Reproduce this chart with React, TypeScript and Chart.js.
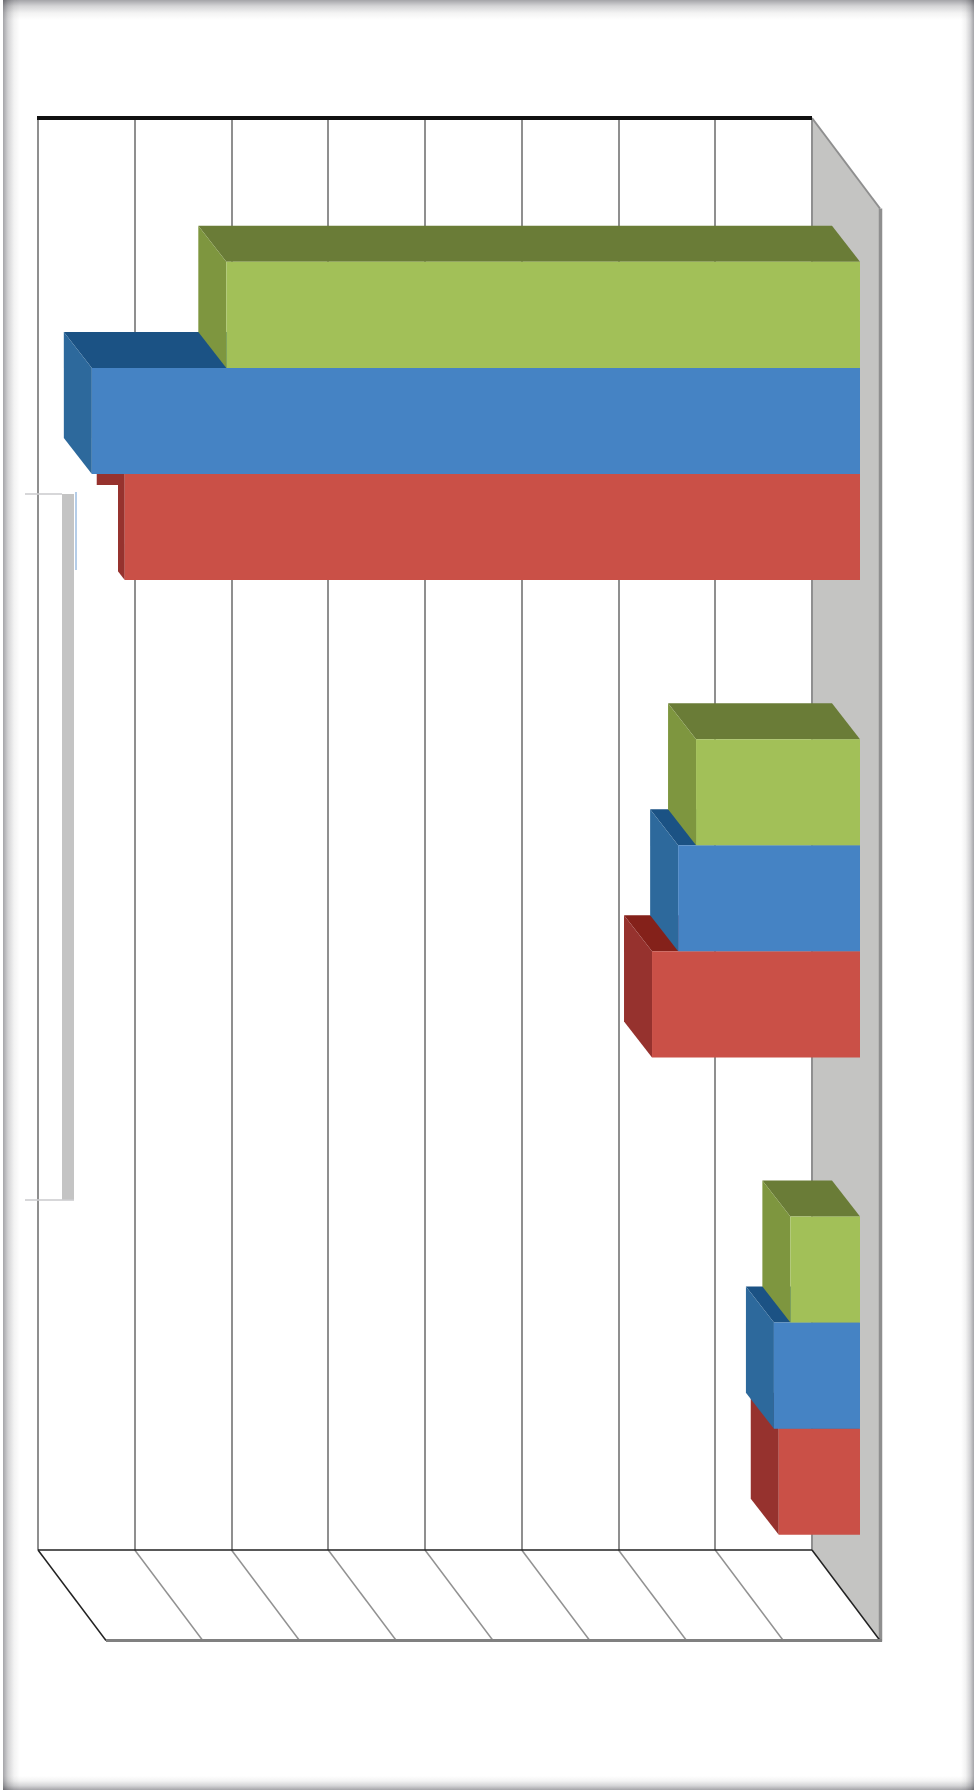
import React, { useEffect, useRef } from "react";
import { Chart, registerables } from "chart.js";

Chart.register(...registerables);

const categories = ["Group 1", "Group 2", "Group 3"];
const greenValues = [65.6, 17.05, 7.3];
const blueValues = [79.5, 18.9, 9.0];
const redValues = [76.1, 21.6, 8.5];

const seriesColors = {
  green: { front: "#A2C058", top: "#6A7C37", side: "#7E963F" },
  blue: { front: "#4583C4", top: "#1B5284", side: "#2D699C" },
  red: { front: "#CA5047", top: "#84211A", side: "#96322E" },
};
const faces = [seriesColors.green, seriesColors.blue, seriesColors.red];

const FRONT = { x: 49, y: 64.3 };
const BACK = { x: 21, y: 28.3 };
const FLOOR = { x: 68, y: 90.5 };

function poly(ctx: CanvasRenderingContext2D, pts: number[][], fill: string) {
  ctx.beginPath();
  pts.forEach((p, i) => (i ? ctx.lineTo(p[0], p[1]) : ctx.moveTo(p[0], p[1])));
  ctx.closePath();
  ctx.fillStyle = fill;
  ctx.fill();
}

function line(
  ctx: CanvasRenderingContext2D,
  x1: number,
  y1: number,
  x2: number,
  y2: number,
  color: string,
  width: number
) {
  ctx.beginPath();
  ctx.moveTo(x1, y1);
  ctx.lineTo(x2, y2);
  ctx.strokeStyle = color;
  ctx.lineWidth = width;
  ctx.stroke();
}

const framePlugin = {
  id: "frame",
  beforeDraw(chart: any) {
    const { ctx, width: w, height: h } = chart;
    ctx.save();
    ctx.fillStyle = "#ffffff";
    ctx.fillRect(0, 0, w, h);
    ctx.globalCompositeOperation = "multiply";
    const band = (x0: number, y0: number, x1: number, y1: number, rx: number, ry: number, rw: number, rh: number) => {
      const g = ctx.createLinearGradient(x0, y0, x1, y1);
      g.addColorStop(0, "#a4a4a8");
      g.addColorStop(0.3, "#d4d4d6");
      g.addColorStop(0.65, "#f3f3f3");
      g.addColorStop(1, "#ffffff");
      ctx.fillStyle = g;
      ctx.fillRect(rx, ry, rw, rh);
    };
    band(3, 0, 20, 0, 3, 0, 17, h);
    band(0, 0, 0, 20, 3, 0, w - 3, 20);
    band(w, 0, w - 13, 0, w - 13, 0, 13, h);
    band(0, h, 0, h - 14, 3, h - 14, w - 3, 14);
    ctx.restore();
  },
};

const wallPlugin = {
  id: "wall",
  beforeDatasetsDraw(chart: any) {
    const { ctx, chartArea: a, scales } = chart;
    const { left, right, top, bottom } = a;
    ctx.save();
    poly(
      ctx,
      [
        [right, top],
        [right + FLOOR.x, top + FLOOR.y],
        [right + FLOOR.x, bottom + FLOOR.y],
        [right, bottom],
      ],
      "#C4C4C2"
    );
    line(ctx, right, top, right, bottom, "#8f8f8f", 2);
    line(ctx, right, top, right + FLOOR.x, top + FLOOR.y, "#8f8f8f", 2);
    line(ctx, right + FLOOR.x + 0.5, top + FLOOR.y, right + FLOOR.x + 0.5, bottom + FLOOR.y + 1, "#8f8f8f", 3.5);
    line(ctx, left - 1, top, right, top, "#111111", 4);
    for (const t of scales.x.ticks) {
      const x = scales.x.getPixelForValue(t.value);
      if (x > left + 1 && x < right - 1) {
        line(ctx, x, bottom, x + FLOOR.x, bottom + FLOOR.y, "#929292", 1.5);
      }
    }
    line(ctx, left, bottom, right, bottom, "#222222", 1.5);
    line(ctx, left, bottom, left + FLOOR.x, bottom + FLOOR.y, "#222222", 1.5);
    line(ctx, right, bottom, right + FLOOR.x, bottom + FLOOR.y, "#222222", 1.5);
    line(ctx, left + FLOOR.x, bottom + FLOOR.y, right + FLOOR.x + 2, bottom + FLOOR.y, "#808080", 3);
    ctx.restore();
  },
};

const depthPlugin = {
  id: "depth",
  beforeDatasetDraw(chart: any, args: any) {
    const { ctx } = chart;
    const c = faces[args.index];
    ctx.save();
    for (const el of args.meta.data) {
      const { x, y, base, height } = el.getProps(["x", "y", "base", "height"], true);
      const t = y - height / 2;
      const b = y + height / 2;
      poly(
        ctx,
        [
          [x + BACK.x, t + BACK.y],
          [base + BACK.x, t + BACK.y],
          [base + FRONT.x, t + FRONT.y],
          [x + FRONT.x, t + FRONT.y],
        ],
        c.top
      );
      poly(
        ctx,
        [
          [x + BACK.x, t + BACK.y],
          [x + FRONT.x, t + FRONT.y],
          [x + FRONT.x, b + FRONT.y],
          [x + BACK.x, b + BACK.y],
        ],
        c.side
      );
    }
    ctx.translate(FRONT.x, FRONT.y);
  },
  afterDatasetDraw(chart: any) {
    chart.ctx.restore();
  },
};

const overlayPlugin = {
  id: "overlay",
  afterDatasetsDraw(chart: any) {
    const { ctx } = chart;
    ctx.save();
    ctx.fillStyle = "#ffffff";
    ctx.fillRect(40, 485, 78, 90);
    ctx.fillStyle = "#C4C4C4";
    ctx.fillRect(62, 494, 12, 706);
    line(ctx, 25, 494, 62, 494, "rgba(205,205,208,0.8)", 2);
    line(ctx, 25, 1200, 74, 1200, "rgba(205,205,208,0.8)", 2);
    line(ctx, 76, 492, 76, 570, "#9DBDE0", 1.5);
    ctx.restore();
  },
};

export default function App() {
  const ref = useRef<HTMLCanvasElement>(null);
  useEffect(() => {
    if (!ref.current) return;
    const chart = new Chart(ref.current, {
      type: "bar",
      data: {
        labels: categories,
        datasets: [
          { label: "Green", data: greenValues, backgroundColor: seriesColors.green.front, clip: false } as any,
          { label: "Blue", data: blueValues, backgroundColor: seriesColors.blue.front, clip: false } as any,
          { label: "Red", data: redValues, backgroundColor: seriesColors.red.front, clip: false } as any,
        ],
      },
      options: {
        indexAxis: "y",
        animation: false,
        responsive: false,
        devicePixelRatio: 1,
        layout: { padding: { left: 38, right: 162, top: 118, bottom: 240 } },
        datasets: { bar: { categoryPercentage: 2 / 3, barPercentage: 1 } },
        plugins: { legend: { display: false }, title: { display: false }, tooltip: { enabled: false } },
        scales: {
          x: {
            type: "linear",
            reverse: true,
            min: 0,
            max: 80,
            ticks: { stepSize: 10, display: false },
            border: { display: false },
            grid: { color: "#8f8f8f", lineWidth: 2, drawTicks: false },
          },
          y: {
            type: "category",
            display: false,
            grid: { display: false },
          },
        },
      },
      plugins: [framePlugin, wallPlugin, depthPlugin, overlayPlugin],
    } as any);
    return () => chart.destroy();
  }, []);
  return (
    <canvas
      ref={ref}
      width={974}
      height={1790}
      style={{ position: "absolute", left: 0, top: 0, display: "block", filter: "blur(0.5px)" }}
    />
  );
}
